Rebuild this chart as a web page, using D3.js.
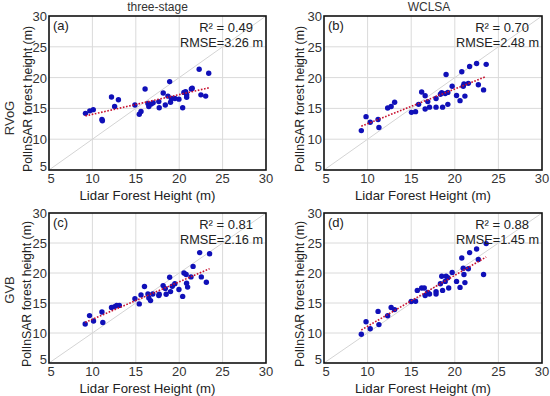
<!DOCTYPE html>
<html>
<head>
<meta charset="utf-8">
<script src="https://cdn.jsdelivr.net/npm/d3@7"></script>
<style>
  body { margin: 0; background: #fff; }
  text { font-family: "Liberation Sans", Arial, sans-serif; fill: #222; }
</style>
</head>
<body>
<svg id="chart" width="550" height="396"></svg>
<script>
// lidar height vs polinsar height, one array per method
const rvogPts = [[9.2,14.2],[9.7,14.6],[10.1,14.8],[11.1,13.2],[11.15,13.0],[12.2,16.85],[12.56,15.3],[13.0,16.4],
  [14.9,15.55],[15.4,14.05],[15.6,14.5],[16.07,18.15],[16.4,15.8],[16.5,15.3],[16.77,15.7],[17.0,15.9],
  [17.65,16.1],[17.7,15.1],[18.16,17.5],[18.4,15.55],[18.7,17.0],[18.9,19.35],[19.0,16.0],[19.1,16.6],
  [19.5,16.6],[19.97,16.5],[20.4,15.1],[20.54,17.6],[20.74,17.7],[20.86,16.8],[20.86,17.2],[21.4,18.15],
  [21.5,18.26],[22.3,21.35],[22.5,17.2],[23.05,17.0],[23.4,20.7]];
const wclsaPts = [[9.28,11.4],[9.82,13.66],[10.3,12.74],[11.2,13.2],[11.3,11.9],[12.3,15.06],[12.7,15.3],[13.1,16.0],
  [15.03,14.36],[15.5,14.47],[15.85,15.66],[16.2,17.66],[16.6,17.07],[16.6,14.9],[16.9,16.1],[17.1,15.2],
  [17.85,15.2],[17.85,16.6],[18.35,17.3],[18.5,17.55],[18.6,15.2],[18.9,17.4],[19.0,20.5],[19.2,17.6],
  [19.2,15.66],[19.7,18.6],[20.2,17.1],[20.6,16.26],[20.8,20.96],[20.97,18.6],[21.05,18.96],[21.16,17.0],
  [21.55,19.07],[21.7,21.8],[22.5,22.3],[22.7,18.85],[23.3,18.0],[23.6,22.15]];
const gvbPts = [[9.17,11.5],[9.67,12.9],[10.13,12.0],[11.1,13.5],[11.2,11.75],[12.2,14.25],[12.56,14.4],[12.8,14.6],
  [13.1,14.6],[14.9,15.7],[15.4,14.85],[15.6,16.35],[16.0,17.75],[16.4,16.5],[16.5,15.85],[16.7,15.4],
  [16.96,16.5],[17.65,16.25],[17.7,16.45],[18.15,17.9],[18.4,17.4],[18.5,16.45],[18.9,19.3],[19.0,16.9],
  [19.2,17.8],[19.5,18.2],[19.97,17.25],[20.4,16.1],[20.55,20.0],[20.8,19.75],[20.85,18.3],[20.97,17.65],
  [21.36,19.35],[21.6,21.1],[22.36,23.4],[22.55,19.35],[23.13,18.45],[23.5,23.2]];
const ppPts = [[9.28,9.8],[9.82,11.87],[10.3,10.7],[11.2,13.6],[11.3,11.4],[12.3,12.87],[12.7,14.25],[13.1,13.9],
  [15.0,15.25],[15.5,15.3],[15.7,17.1],[16.2,17.5],[16.5,17.5],[16.6,16.25],[16.9,16.75],[17.1,16.5],
  [17.85,16.9],[17.85,16.5],[18.35,18.2],[18.5,19.45],[18.6,17.1],[18.9,18.6],[19.0,19.45],[19.2,19.2],
  [19.3,17.5],[19.7,20.1],[20.2,18.6],[20.6,17.6],[20.8,22.5],[20.97,20.8],[21.05,19.75],[21.16,18.4],
  [21.55,20.7],[21.7,23.4],[22.5,24.0],[22.7,22.25],[23.3,19.75],[23.6,24.9]];

const panelTags = ["(a)", "(b)", "(c)", "(d)"];
const colTitles = ["three-stage", "WCLSA"];
const rowNames = ["RVoG", "GVB"];
const r2Labels = ["R² = 0.49", "R² = 0.70", "R² = 0.81", "R² = 0.88"];
const rmseLabels = ["RMSE=3.26 m", "RMSE=2.48 m", "RMSE=2.16 m", "RMSE=1.45 m"];
const ticks = [5, 10, 15, 20, 25, 30];
const gridTicks = [10, 15, 20, 25];

const svg = d3.select("#chart");

// panel boxes (left, top, width, height) + y title offset
const boxes = [
  { x: 49, y: 16, w: 217, h: 154, yt: -17 },
  { x: 324, y: 16, w: 218, h: 154, yt: -20 },
  { x: 49, y: 213, w: 217, h: 150, yt: -18 },
  { x: 324, y: 213, w: 218, h: 150, yt: -20 }
];
const allPts = [rvogPts, wclsaPts, gvbPts, ppPts];

function fit(pts) {
  const mx = d3.mean(pts, d => d[0]), my = d3.mean(pts, d => d[1]);
  const b = d3.sum(pts, d => (d[0] - mx) * (d[1] - my)) / d3.sum(pts, d => (d[0] - mx) * (d[0] - mx));
  return { b: b, a: my - b * mx };
}

boxes.forEach((bx, i) => {
  const pts = allPts[i];
  const x = d3.scaleLinear().domain([5, 30]).range([0, bx.w]);
  const y = d3.scaleLinear().domain([5, 30]).range([bx.h, 0]);
  const g = svg.append("g").attr("transform", `translate(${bx.x},${bx.y})`);

  // grid
  g.selectAll(".gx").data(gridTicks).enter().append("line")
    .attr("x1", d => x(d)).attr("x2", d => x(d))
    .attr("y1", 0).attr("y2", bx.h)
    .style("stroke", "#dadada").style("stroke-width", 1);
  g.selectAll(".gy").data(gridTicks).enter().append("line")
    .attr("y1", d => y(d)).attr("y2", d => y(d))
    .attr("x1", 0).attr("x2", bx.w)
    .style("stroke", "#dadada").style("stroke-width", 1);

  // 1:1 line
  g.append("line")
    .attr("x1", x(5)).attr("y1", y(5)).attr("x2", x(30)).attr("y2", y(30))
    .style("stroke", "#d4d4d4").style("stroke-width", 1);

  // points
  g.selectAll("circle").data(pts).enter().append("circle")
    .attr("cx", d => x(d[0])).attr("cy", d => y(d[1]))
    .attr("r", 2.7)
    .attr("fill", "#1010b8");

  // regression line
  const f = fit(pts);
  const x0 = d3.min(pts, d => d[0]), x1 = d3.max(pts, d => d[0]);
  g.append("line")
    .attr("x1", x(x0)).attr("y1", y(f.a + f.b * x0))
    .attr("x2", x(x1)).attr("y2", y(f.a + f.b * x1))
    .style("stroke", "#c8102e").style("stroke-width", 1.6)
    .style("stroke-dasharray", "1.6,1.6");

  // frame
  g.append("rect").attr("width", bx.w).attr("height", bx.h)
    .attr("fill", "none").style("stroke", "#111").style("stroke-width", 1.6);

  // tick labels
  g.selectAll(".tx").data(ticks).enter().append("text")
    .attr("x", d => x(d) + (d === 5 ? 2 : 0)).attr("y", bx.h + 13)
    .attr("text-anchor", "middle").style("font-size", "13px").style("fill", "#333")
    .text(d => d);
  g.selectAll(".ty").data(ticks).enter().append("text")
    .attr("x", -2).attr("y", d => y(d) + (d === 5 ? 1 : 5))
    .attr("text-anchor", "end").style("font-size", "13px").style("fill", "#333")
    .text(d => d);

  // axis titles (condensed like the original font)
  g.append("text")
    .attr("x", bx.w / 2 - 10).attr("y", bx.h + 29.5)
    .attr("text-anchor", "middle").style("font-size", "13.5px")
    .attr("textLength", 136).attr("lengthAdjust", "spacingAndGlyphs")
    .text("Lidar Forest Height (m)");
  g.append("text")
    .attr("transform", `translate(${bx.yt},${bx.h / 2 + 6}) rotate(-90)`)
    .attr("text-anchor", "middle").style("font-size", "13.5px")
    .attr("textLength", 146).attr("lengthAdjust", "spacingAndGlyphs")
    .text("PolInSAR forest height (m)");

  // annotations
  g.append("text").attr("x", 4).attr("y", 14).style("font-size", "13px").text(panelTags[i]);
  g.append("text").attr("x", bx.w - 13).attr("y", 16)
    .attr("text-anchor", "end").style("font-size", "13px").text(r2Labels[i]);
  g.append("text").attr("x", bx.w - 3).attr("y", 31)
    .attr("text-anchor", "end").style("font-size", "13px")
    .attr("textLength", 83).attr("lengthAdjust", "spacingAndGlyphs")
    .text(rmseLabels[i]);
});

// column titles
colTitles.forEach((t, c) => {
  const bx = boxes[c];
  svg.append("text")
    .attr("x", bx.x + bx.w / 2 + (c === 0 ? 0 : -4)).attr("y", 11)
    .attr("text-anchor", "middle").style("font-size", "12px").style("fill", "#333")
    .text(t);
});

// row names
rowNames.forEach((t, r) => {
  const cy = r === 0 ? 118 : 290;
  svg.append("text")
    .attr("transform", `translate(14,${cy}) rotate(-90)`)
    .attr("text-anchor", "middle").style("font-size", "13px").style("fill", "#333")
    .text(t);
});
</script>
</body>
</html>
